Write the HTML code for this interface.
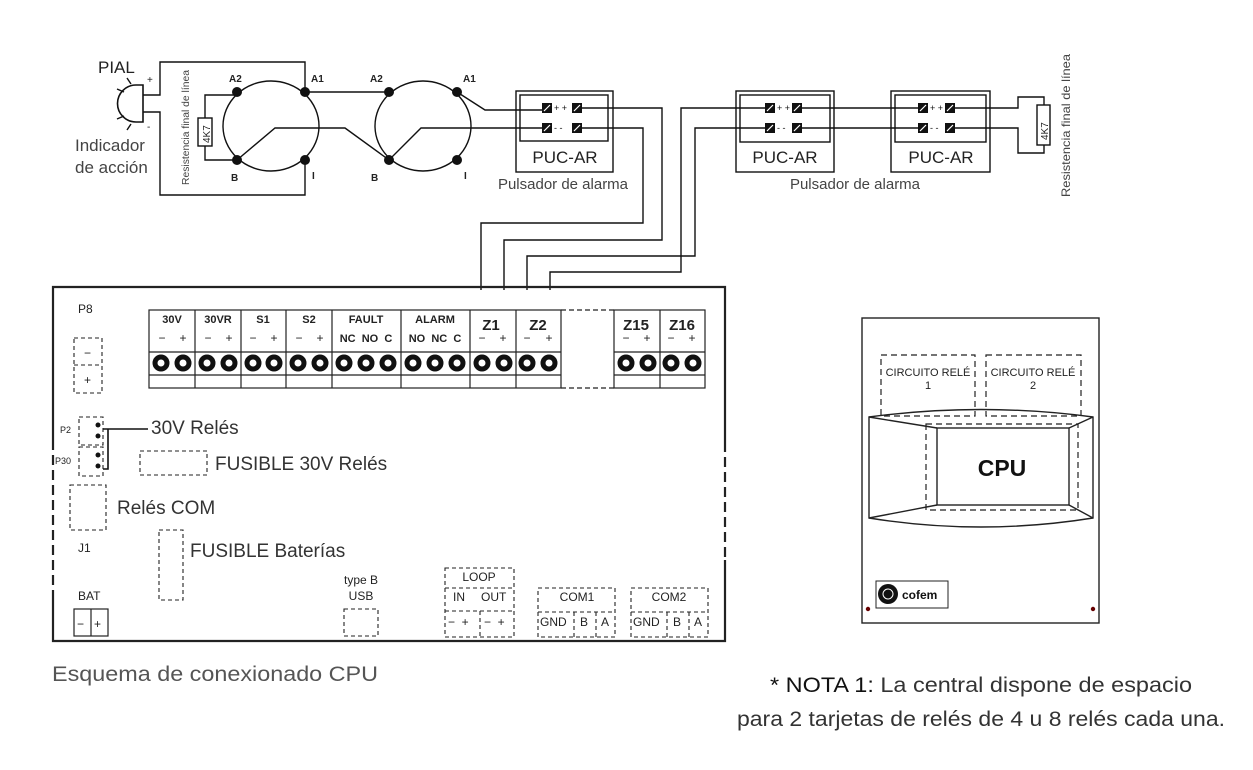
<!DOCTYPE html>
<html><head><meta charset="utf-8"><style>
html,body{margin:0;padding:0;background:#fff;}
svg{display:block;font-family:"Liberation Sans",sans-serif;}
.b{font-weight:bold;}
</style></head><body>
<svg width="1253" height="770" viewBox="0 0 1253 770" xmlns="http://www.w3.org/2000/svg">
<g fill="none" stroke="#111" stroke-width="1.4">
<path d="M143,85 L143,122 L136,122 A18,18 0 0 1 136,85 Z" stroke-width="1.6"/>
<path d="M131,84 L127,78 M124,92 L117,89 M124,116 L117,119 M131,124 L127,130"/>
<path d="M143,95 H160 V62 H305 V92"/>
<path d="M143,112 H160 V195 H305 V160"/>
<rect x="198" y="118" width="14" height="28"/>
<path d="M205,118 V95 H237 M205,146 V160 H237"/>
<ellipse cx="271" cy="126" rx="48" ry="45"/>
<ellipse cx="423" cy="126" rx="48" ry="45"/>
<path d="M305,92 H389"/>
<path d="M237,160 L275,128 H345 L389,160 L421,128 H547"/>
<path d="M457,92 L485,110 H547"/>
<rect x="516" y="91" width="97" height="81"/>
<rect x="520" y="95" width="88" height="46"/>
<rect x="736" y="91" width="98" height="81"/>
<rect x="740" y="95" width="90" height="47"/>
<rect x="891" y="91" width="99" height="81"/>
<rect x="895" y="95" width="91" height="47"/>
<path d="M577,108 H662 V240 H504 V290"/>
<path d="M577,128 H643 V223 H481 V290"/>
<path d="M770,108 H681 V272 H550 V290"/>
<path d="M770,128 H695 V256 H527 V290"/>
<path d="M797,108 H923 M797,128 H923"/>
<path d="M950,108 H1018 V97 H1044 V105"/>
<path d="M950,128 H1018 V153 H1044 V145"/>
<rect x="1037" y="105" width="13" height="40"/>
</g>
<g fill="#111">
<rect x="542" y="103" width="10" height="10"/><rect x="572" y="103" width="10" height="10"/>
<rect x="542" y="123" width="10" height="10"/><rect x="572" y="123" width="10" height="10"/>
<rect x="765" y="103" width="10" height="10"/><rect x="792" y="103" width="10" height="10"/>
<rect x="765" y="123" width="10" height="10"/><rect x="792" y="123" width="10" height="10"/>
<rect x="918" y="103" width="10" height="10"/><rect x="945" y="103" width="10" height="10"/>
<rect x="918" y="123" width="10" height="10"/><rect x="945" y="123" width="10" height="10"/>
<circle cx="237" cy="92" r="5"/><circle cx="305" cy="92" r="5"/><circle cx="237" cy="160" r="5"/><circle cx="305" cy="160" r="5"/>
<circle cx="389" cy="92" r="5"/><circle cx="457" cy="92" r="5"/><circle cx="389" cy="160" r="5"/><circle cx="457" cy="160" r="5"/>
</g>
<g stroke="#fff" stroke-width="1.2">
<path d="M544,111 L550,105 M574,111 L580,105 M544,131 L550,125 M574,131 L580,125 M767,111 L773,105 M794,111 L800,105 M767,131 L773,125 M794,131 L800,125 M920,111 L926,105 M947,111 L953,105 M920,131 L926,125 M947,131 L953,125"/>
</g>
<g font-size="9" fill="#111">
<text x="554" y="111">+ +</text><text x="554" y="131">- -</text>
<text x="777" y="111">+ +</text><text x="777" y="131">- -</text>
<text x="930" y="111">+ +</text><text x="930" y="131">- -</text>
</g>
<g fill="#222">
<text x="98" y="73" font-size="17">PIAL</text>
<text x="147" y="83" font-size="10">+</text>
<text x="147" y="130" font-size="10">-</text>
<text x="75" y="151" font-size="17" fill="#444">Indicador</text>
<text x="75" y="173" font-size="17" fill="#444">de acción</text>
<text transform="translate(189,185) rotate(-90)" font-size="10" fill="#444" textLength="115" lengthAdjust="spacingAndGlyphs">Resistencia final de línea</text>
<text transform="translate(210,143) rotate(-90)" font-size="10">4K7</text>
<text transform="translate(1048,140) rotate(-90)" font-size="10">4K7</text>
<text transform="translate(1070,197) rotate(-90)" font-size="12" fill="#444" textLength="143" lengthAdjust="spacingAndGlyphs">Resistencia final de línea</text>
<g class="b" font-size="10">
<text x="229" y="82">A2</text><text x="311" y="82">A1</text><text x="231" y="181">B</text><text x="312" y="179">I</text>
<text x="370" y="82">A2</text><text x="463" y="82">A1</text><text x="371" y="181">B</text><text x="464" y="179">I</text>
</g>
<g font-size="17" text-anchor="middle">
<text x="565" y="163">PUC-AR</text><text x="785" y="163">PUC-AR</text><text x="941" y="163">PUC-AR</text>
</g>
<g font-size="15" fill="#444" text-anchor="middle">
<text x="563" y="189">Pulsador de alarma</text><text x="855" y="189">Pulsador de alarma</text>
</g>
</g>
<path d="M53,440 V287 H725 V442 M725,560 V641 H53 V590" fill="none" stroke="#222" stroke-width="2.2"/>
<path d="M53,440 V590 M725,442 V560" fill="none" stroke="#222" stroke-width="2.2" stroke-dasharray="10,5"/>
<g fill="none" stroke="#222" stroke-width="1.2">
<rect x="149" y="310" width="412" height="78"/>
<path d="M149,352 H561 M149,375 H561"/>
<path d="M195,310 V388 M241,310 V388 M286,310 V388 M332,310 V388 M401,310 V388 M470,310 V388 M516,310 V388"/>
<rect x="614" y="310" width="91" height="78"/>
<path d="M614,352 H705 M614,375 H705 M660,310 V388"/>
<path d="M561,310 H614 M561,388 H614" stroke-dasharray="5,3"/>
</g>
<g fill="#fff" stroke="#111" stroke-width="5">
<circle cx="161" cy="363" r="6"/><circle cx="183" cy="363" r="6"/>
<circle cx="207" cy="363" r="6"/><circle cx="229" cy="363" r="6"/>
<circle cx="253" cy="363" r="6"/><circle cx="274" cy="363" r="6"/>
<circle cx="298" cy="363" r="6"/><circle cx="320" cy="363" r="6"/>
<circle cx="344" cy="363" r="6"/><circle cx="366" cy="363" r="6"/><circle cx="388" cy="363" r="6"/>
<circle cx="413" cy="363" r="6"/><circle cx="435" cy="363" r="6"/><circle cx="457" cy="363" r="6"/>
<circle cx="482" cy="363" r="6"/><circle cx="504" cy="363" r="6"/>
<circle cx="527" cy="363" r="6"/><circle cx="549" cy="363" r="6"/>
<circle cx="626" cy="363" r="6"/><circle cx="648" cy="363" r="6"/>
<circle cx="671" cy="363" r="6"/><circle cx="693" cy="363" r="6"/>
</g>
<g class="b" font-size="11" fill="#222" text-anchor="middle">
<text x="172" y="323">30V</text><text x="218" y="323">30VR</text><text x="263" y="323">S1</text><text x="309" y="323">S2</text>
<text x="366" y="323">FAULT</text><text x="435" y="323">ALARM</text>
<text x="366" y="342" xml:space="preserve">NC  NO  C</text><text x="435" y="342" xml:space="preserve">NO  NC  C</text>
<text x="491" y="330" font-size="15">Z1</text><text x="538" y="330" font-size="15">Z2</text>
<text x="636" y="330" font-size="15">Z15</text><text x="682" y="330" font-size="15">Z16</text>
</g>
<g font-size="12" fill="#222" text-anchor="middle">
<text x="162" y="342">−</text><text x="183" y="342">+</text>
<text x="208" y="342">−</text><text x="229" y="342">+</text>
<text x="253" y="342">−</text><text x="274" y="342">+</text>
<text x="299" y="342">−</text><text x="320" y="342">+</text>
<text x="482" y="342">−</text><text x="503" y="342">+</text>
<text x="527" y="342">−</text><text x="549" y="342">+</text>
<text x="626" y="342">−</text><text x="647" y="342">+</text>
<text x="671" y="342">−</text><text x="692" y="342">+</text>
</g>
<g fill="none" stroke="#222" stroke-width="1.1" stroke-dasharray="4,3">
<rect x="74" y="338" width="28" height="55"/><path d="M74,365 H102"/>
<rect x="79" y="417" width="24" height="28"/><rect x="79" y="447" width="24" height="29"/>
<rect x="140" y="451" width="67" height="24"/>
<rect x="70" y="485" width="36" height="45"/>
<rect x="159" y="530" width="24" height="70"/>
<rect x="344" y="609" width="34" height="27"/>
<rect x="445" y="568" width="69" height="69"/><path d="M445,588 H514 M445,611 H514 M480,611 V637"/>
<rect x="538" y="588" width="77" height="49"/><path d="M538,612 H615 M574,612 V637 M596,612 V637"/>
<rect x="631" y="588" width="77" height="49"/><path d="M631,612 H708 M667,612 V637 M689,612 V637"/>
</g>
<path d="M108,429 H148 M103,429 H108 V469 H103" fill="none" stroke="#111" stroke-width="1.6"/>
<g fill="#111"><circle cx="98" cy="425" r="2.5"/><circle cx="98" cy="436" r="2.5"/><circle cx="98" cy="455" r="2.5"/><circle cx="98" cy="466" r="2.5"/></g>
<rect x="74" y="609" width="34" height="27" fill="none" stroke="#222" stroke-width="1.2"/>
<path d="M91,609 V636" stroke="#222" stroke-width="1.2"/>
<g fill="#222" font-size="12">
<text x="78" y="313">P8</text>
<text x="84" y="357">−</text><text x="84" y="384">+</text>
<text x="60" y="433" font-size="9">P2</text><text x="55" y="464" font-size="9">P30</text>
<text x="78" y="552">J1</text>
<text x="78" y="600">BAT</text>
<text x="77" y="628">−</text><text x="94" y="628">+</text>
<text x="361" y="584" text-anchor="middle">type B</text><text x="361" y="600" text-anchor="middle">USB</text>
<text x="479" y="581" text-anchor="middle">LOOP</text>
<text x="453" y="601">IN</text><text x="481" y="601">OUT</text>
<text x="448" y="626" xml:space="preserve">−  +</text><text x="484" y="626" xml:space="preserve">−  +</text>
<text x="577" y="601" text-anchor="middle">COM1</text><text x="669" y="601" text-anchor="middle">COM2</text>
<text x="540" y="626">GND</text><text x="580" y="626">B</text><text x="601" y="626">A</text>
<text x="633" y="626">GND</text><text x="673" y="626">B</text><text x="694" y="626">A</text>
</g>
<g fill="#333" font-size="19">
<text x="151" y="434">30V Relés</text>
<text x="215" y="470">FUSIBLE 30V Relés</text>
<text x="117" y="514">Relés COM</text>
<text x="190" y="557">FUSIBLE Baterías</text>
<text x="52" y="681" font-size="21" fill="#555" textLength="326" lengthAdjust="spacingAndGlyphs">Esquema de conexionado CPU</text>
<text x="770" y="692" font-size="21" textLength="422" lengthAdjust="spacingAndGlyphs"><tspan fill="#111">* NOTA 1:</tspan> La central dispone de espacio</text>
<text x="737" y="726" font-size="21" textLength="488" lengthAdjust="spacingAndGlyphs">para 2 tarjetas de relés de 4 u 8 relés cada una.</text>
</g>
<g fill="none" stroke="#222" stroke-width="1.4">
<rect x="862" y="318" width="237" height="305"/>
<path d="M869,417 Q981,402 1093,417 V518 Q981,536 869,518 Z"/>
<rect x="937" y="428" width="132" height="77"/>
<path d="M869,417 L937,428 M1093,417 L1069,428 M869,518 L937,505 M1093,518 L1069,505"/>
<g stroke-dasharray="6,4" stroke-width="1.2">
<rect x="881" y="355" width="94" height="61"/>
<rect x="986" y="355" width="95" height="61"/>
<rect x="926" y="424" width="152" height="86"/>
</g>
<rect x="876" y="581" width="72" height="27" stroke-width="1"/>
</g>
<circle cx="888" cy="594" r="10" fill="#111"/>
<circle cx="888" cy="594" r="5" fill="none" stroke="#fff" stroke-width="1"/>
<text x="902" y="599" font-size="12" class="b" fill="#111">cofem</text>
<circle cx="868" cy="609" r="2.2" fill="#600"/><circle cx="1093" cy="609" r="2.2" fill="#600"/>
<g fill="#222" font-size="11" text-anchor="middle">
<text x="928" y="376">CIRCUITO RELÉ</text><text x="928" y="389">1</text>
<text x="1033" y="376">CIRCUITO RELÉ</text><text x="1033" y="389">2</text>
<text x="1002" y="476" font-size="23" class="b" fill="#111">CPU</text>
</g>
</svg>
</body></html>
